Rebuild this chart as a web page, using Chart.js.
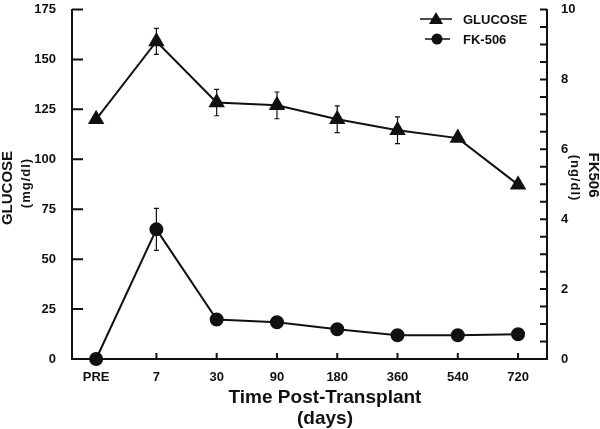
<!DOCTYPE html>
<html>
<head>
<meta charset="utf-8">
<script src="https://cdn.jsdelivr.net/npm/chart.js@4"></script>
<style>
  html, body { margin: 0; padding: 0; background: #fff; }
  #wrap { width: 600px; height: 429px; position: relative; }
</style>
</head>
<body>
<div id="wrap"><canvas id="chart"></canvas></div>
<script>
// Data
const timeLabels = ['PRE', '7', '30', '90', '180', '360', '540', '720'];
const glucose = [120, 159, 128.4, 127, 120, 114.5, 110.6, 87.3];
const glucoseErr = [0, 6.5, 6.6, 6.7, 6.7, 6.7, 0, 0];
const fk506 = [0, 3.71, 1.13, 1.05, 0.85, 0.68, 0.68, 0.71];
const fk506Err = [0, 0.6, 0, 0, 0, 0, 0, 0];

const FONT = '"Liberation Sans", Arial, Helvetica, sans-serif';

const toPoints = arr => arr.map((v, i) => ({ x: i, y: v }));

// error bars drawn from the scales
const errorBars = {
    id: 'errorBars',
    afterDatasetsDraw(chart) {
        const ctx = chart.ctx;
        const x = chart.scales.x;
        ctx.save();
        ctx.strokeStyle = '#111';
        ctx.lineWidth = 1.2;
        chart.data.datasets.forEach(ds => {
            const y = chart.scales[ds.yAxisID];
            ds.data.forEach((p, i) => {
                const e = ds.errors[i];
                if (!e) return;
                const px = x.getPixelForValue(p.x);
                const top = y.getPixelForValue(p.y + e);
                const bot = y.getPixelForValue(p.y - e);
                ctx.beginPath();
                ctx.moveTo(px, top); ctx.lineTo(px, bot);
                ctx.moveTo(px - 2.5, top); ctx.lineTo(px + 2.5, top);
                ctx.moveTo(px - 2.5, bot); ctx.lineTo(px + 2.5, bot);
                ctx.stroke();
            });
        });
        ctx.restore();
    }
};

// inward tick marks, axis titles and legend
const decorations = {
    id: 'decorations',
    afterDraw(chart) {
        const ctx = chart.ctx;
        const area = chart.chartArea;
        const { x, yG, yF } = chart.scales;
        ctx.save();
        ctx.strokeStyle = '#111';
        ctx.lineWidth = 2;
        ctx.beginPath();
        yG.ticks.forEach(t => {
            const py = yG.getPixelForValue(t.value);
            ctx.moveTo(area.left, py); ctx.lineTo(area.left + 11, py);
        });
        yF.ticks.forEach(t => {
            const py = yF.getPixelForValue(t.value);
            ctx.moveTo(area.right, py); ctx.lineTo(area.right - 7, py);
        });
        x.ticks.forEach(t => {
            if (!Number.isInteger(t.value)) return;
            const px = x.getPixelForValue(t.value);
            ctx.moveTo(px, area.bottom); ctx.lineTo(px, area.bottom - 6);
        });
        ctx.stroke();

        ctx.fillStyle = '#111';
        ctx.textAlign = 'center';
        ctx.textBaseline = 'middle';
        const rotText = (txt, cx, cy, ang, font, spacing) => {
            ctx.save();
            ctx.translate(cx, cy);
            ctx.rotate(ang);
            ctx.font = font;
            ctx.letterSpacing = spacing || '0px';
            ctx.fillText(txt, 0, 0);
            ctx.restore();
        };
        rotText('GLUCOSE', 8, 188, -Math.PI / 2, 'bold 15px ' + FONT);
        rotText('(mg/dl)', 26, 183, -Math.PI / 2, 'bold 13px ' + FONT, '1px');
        rotText('FK506', 593, 175, Math.PI / 2, 'bold 15px ' + FONT);
        rotText('(ng/dl)', 575, 178, Math.PI / 2, 'bold 13px ' + FONT, '1px');

        ctx.font = 'bold 19px ' + FONT;
        ctx.fillText('Time Post-Transplant', 325, 398);
        ctx.fillText('(days)', 325, 419);

        // legend
        const items = [
            { y: 19, x1: 420, x2: 452, cx: 436, ds: chart.data.datasets[0] },
            { y: 39, x1: 425, x2: 450, cx: 437, ds: chart.data.datasets[1] }
        ];
        items.forEach(it => {
            ctx.lineWidth = 1.5;
            ctx.beginPath();
            ctx.moveTo(it.x1, it.y); ctx.lineTo(it.x2, it.y);
            ctx.stroke();
            ctx.beginPath();
            if (it.ds.pointStyle === 'triangle') {
                ctx.moveTo(it.cx, it.y - 7);
                ctx.lineTo(it.cx + 7, it.y + 5);
                ctx.lineTo(it.cx - 7, it.y + 5);
                ctx.closePath();
            } else {
                ctx.arc(it.cx, it.y, 5.5, 0, Math.PI * 2);
            }
            ctx.fill();
            ctx.font = 'bold 13px ' + FONT;
            ctx.textAlign = 'left';
            ctx.fillText(it.ds.label, 463, it.y + 1);
        });
        ctx.restore();
    }
};

const ctx = document.getElementById('chart').getContext('2d');
new Chart(ctx, {
    type: 'line',
    data: {
        datasets: [{
            label: 'GLUCOSE',
            data: toPoints(glucose),
            errors: glucoseErr,
            yAxisID: 'yG',
            borderColor: '#111',
            backgroundColor: '#111',
            borderWidth: 2,
            pointStyle: 'triangle',
            pointRadius: 7.5,
            tension: 0,
            clip: false
        }, {
            label: 'FK-506',
            data: toPoints(fk506),
            errors: fk506Err,
            yAxisID: 'yF',
            borderColor: '#111',
            backgroundColor: '#111',
            borderWidth: 2,
            pointStyle: 'circle',
            pointRadius: 6,
            tension: 0,
            clip: false
        }]
    },
    options: {
        responsive: true,
        maintainAspectRatio: false,
        animation: false,
        layout: { padding: { top: 6, left: 0, right: 0, bottom: 0 } },
        plugins: {
            legend: { display: false },
            tooltip: { enabled: false }
        },
        scales: {
            x: {
                type: 'linear',
                min: -0.4,
                max: 7.48,
                afterFit: s => { s.height = 70; s.paddingLeft = 0; s.paddingRight = 0; },
                grid: { display: false, drawTicks: false },
                border: { display: true, color: '#111', width: 2 },
                ticks: {
                    stepSize: 1,
                    includeBounds: false,
                    autoSkip: false,
                    maxRotation: 0,
                    padding: 11,
                    color: '#111',
                    font: { family: FONT, size: 13, weight: 'bold' },
                    callback: v => timeLabels[v] ?? ''
                }
            },
            yG: {
                type: 'linear',
                position: 'left',
                min: 0,
                max: 175,
                afterFit: s => { s.width = 72; s.paddingTop = 0; s.paddingBottom = 0; },
                grid: { display: false, drawTicks: false },
                border: { display: true, color: '#111', width: 2 },
                ticks: {
                    stepSize: 25,
                    padding: 16,
                    color: '#111',
                    font: { family: FONT, size: 13, weight: 'bold' }
                }
            },
            yF: {
                type: 'linear',
                position: 'right',
                min: 0,
                max: 10,
                afterFit: s => { s.width = 53; s.paddingTop = 0; s.paddingBottom = 0; },
                grid: { display: false, drawTicks: false },
                border: { display: true, color: '#111', width: 2 },
                ticks: {
                    stepSize: 0.5,
                    autoSkip: false,
                    padding: 14,
                    color: '#111',
                    font: { family: FONT, size: 13, weight: 'bold' },
                    callback: v => (v % 2 === 0 ? String(v) : '')
                }
            }
        }
    },
    plugins: [errorBars, decorations]
});
</script>
</body>
</html>
